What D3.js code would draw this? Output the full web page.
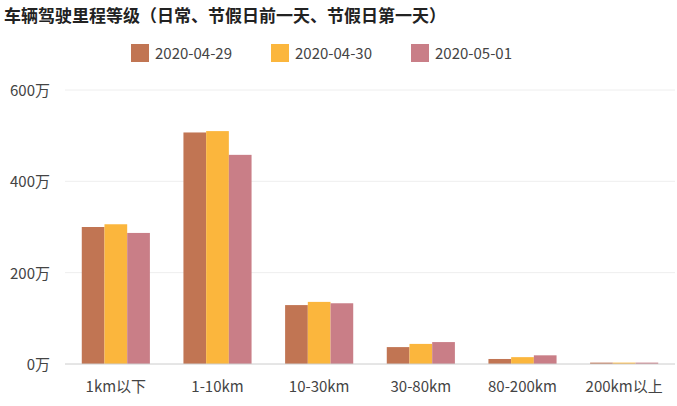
<!DOCTYPE html>
<html><head><meta charset="utf-8">
<script src="https://cdn.jsdelivr.net/npm/d3@7"></script>
<style>body{margin:0;background:#fff;font-family:"Noto Sans CJK SC","Noto Sans",sans-serif;}</style>
</head><body><div id="chart"></div>
<script>
const categories = ["1km以下", "1-10km", "10-30km", "30-80km", "80-200km", "200km以上"];
const seriesNames = ["2020-04-29", "2020-04-30", "2020-05-01"];
const s0429 = [300, 507, 129, 37, 11, 3];
const s0430 = [306, 510, 136, 44, 15, 3];
const s0501 = [287, 458, 133, 48, 19, 3];
const yTicks = [0, 200, 400, 600];
const colors = ["#c17553", "#fbb63d", "#c97e87"];

const width = 677, height = 406;
const margin = {top: 90, right: 2, bottom: 42, left: 65};
const series = [s0429, s0430, s0501];

const svg = d3.select("#chart").append("svg").attr("width", width).attr("height", height);

svg.append("text").attr("x", 4).attr("y", 22)
  .attr("font-size", 17).attr("font-weight", "bold").attr("fill", "#222")
  .text("车辆驾驶里程等级（日常、节假日前一天、节假日第一天）");

const x = d3.scaleBand().domain(categories).range([margin.left, width - margin.right]).paddingInner(0.33).paddingOuter(0.165);
const xs = d3.scaleBand().domain(seriesNames).range([0, x.bandwidth()]);
const y = d3.scaleLinear().domain([0, 600]).range([height - margin.bottom, margin.top]);

svg.append("g").selectAll("line").data(yTicks.slice(1)).join("line")
  .attr("x1", margin.left).attr("x2", width - margin.right)
  .attr("y1", d => y(d)).attr("y2", d => y(d)).attr("stroke", "#eeeeee");

svg.append("g").selectAll("text").data(yTicks).join("text")
  .attr("x", 50).attr("y", d => y(d) + 6).attr("text-anchor", "end")
  .attr("font-size", 15).attr("fill", "#444").text(d => d + "万");

seriesNames.forEach((name, si) => {
  svg.append("g").selectAll("rect").data(series[si]).join("rect")
    .attr("x", (d, i) => x(categories[i]) + xs(name))
    .attr("width", xs.bandwidth())
    .attr("y", d => y(d)).attr("height", d => y(0) - y(d))
    .attr("fill", colors[si]);
});

svg.append("line").attr("x1", margin.left).attr("x2", width - margin.right)
  .attr("y1", y(0)).attr("y2", y(0)).attr("stroke", "#ccc");

svg.append("g").selectAll("text").data(categories).join("text")
  .attr("x", d => x(d) + x.bandwidth() / 2).attr("y", y(0) + 28)
  .attr("text-anchor", "middle").attr("font-size", 15).attr("fill", "#444").text(d => d);

const lg = svg.append("g");
const lx = [131, 271, 411];
seriesNames.forEach((name, i) => {
  lg.append("rect").attr("x", lx[i]).attr("y", 44).attr("width", 18).attr("height", 18).attr("fill", colors[i]);
  lg.append("text").attr("x", lx[i] + 24).attr("y", 59).attr("font-size", 15).attr("fill", "#444").text(name);
});
</script></body></html>
